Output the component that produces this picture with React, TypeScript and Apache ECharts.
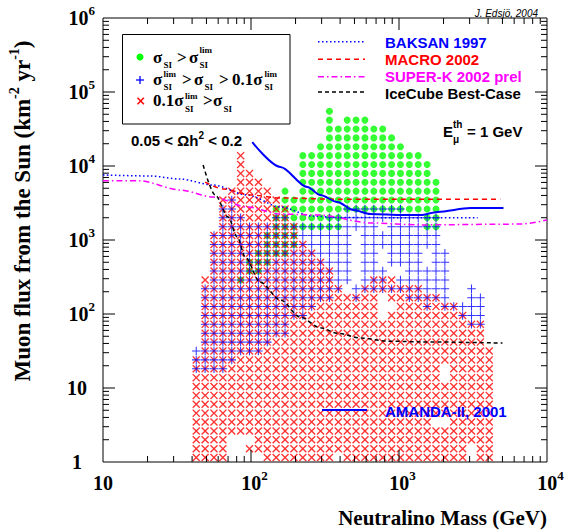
import React, { useEffect, useRef } from "react";
import * as echarts from "echarts";

// ---- scanned model grid: column masses (GeV) and row fluxes (km^-2 yr^-1) ----
const MASS_COLS = [42.66, 48.98, 56.23, 64.57, 74.13, 85.11, 97.72, 112.2, 128.8, 147.9, 169.8, 195.0, 223.9, 257.0, 295.1, 338.8, 389.0, 446.7, 512.9, 588.8, 676.1, 776.2, 891.3, 1023, 1175, 1349, 1549, 1778, 2042, 2344, 2692, 3090, 3548, 4074];
const FLUX_ROWS = [1.148, 1.514, 1.995, 2.63, 3.467, 4.571, 6.026, 7.943, 10.47, 13.8, 18.2, 23.99, 31.62, 41.69, 54.95, 72.44, 95.5, 125.9, 166.0, 218.8, 288.4, 380.2, 501.2, 660.7, 871.0, 1148, 1514, 1995, 2630, 3467, 4571, 6026, 7943, 10470, 13800, 18200, 23990, 31620, 41690, 54950];

// red x  (0.1 sigma_lim > sigma): highest row index per column, plus empty cells [col,row]
const RED_TOP = [11, 20, 25, 29, 30, 34, 32, 31, 30, 29, 28, 26, 24, 23, 22, 21, 19, 18, 18, 19, 20, 20, 20, 19, 19, 19, 18, 18, 17, 17, 16, 15, 15, 12];
const RED_HOLES = [[4, 0], [5, 0], [6, 0], [7, 0], [4, 1], [5, 1], [4, 2], [5, 2], [6, 2], [16, 0], [21, 16], [21, 17], [22, 17], [21, 18], [28, 9], [28, 10], [27, 4], [28, 4], [31, 0], [31, 1]];

// green dots (sigma > sigma_lim): row range per column (-1 = none)
const GREEN_LO = [-1, -1, -1, -1, -1, 20, 21, 21, 22, 23, 23, 24, 26, 26, 26, 26, 26, 28, 28, 28, 28, 28, 28, 28, 28, 28, 26, 26, -1, -1, -1, -1, -1, -1];
const GREEN_HI = [-1, -1, -1, -1, -1, 20, 22, 23, 25, 28, 30, 29, 34, 34, 35, 39, 37, 38, 38, 38, 37, 37, 36, 35, 34, 34, 33, 31, -1, -1, -1, -1, -1, -1];

// blue + (sigma_lim > sigma > 0.1 sigma_lim): [row, firstCol, lastCol]
const BLUE_SEGS = [
  [10, 0, 3], [11, 0, 4], [12, 0, 7], [13, 1, 8], [14, 1, 10], [15, 1, 10], [15, 31, 32],
  [16, 1, 12], [16, 30, 32], [17, 1, 13], [17, 26, 26], [17, 28, 32],
  [18, 1, 15], [18, 18, 18], [18, 24, 28], [18, 31, 32],
  [19, 1, 16], [19, 18, 28], [19, 31, 31],
  [20, 2, 17], [20, 19, 21], [20, 23, 28],
  [21, 2, 17], [21, 19, 21], [21, 24, 28],
  [22, 2, 17], [22, 19, 20], [22, 22, 25], [22, 27, 28],
  [23, 2, 17], [23, 19, 20], [23, 22, 25], [23, 27, 28],
  [24, 2, 17], [24, 19, 27], [25, 2, 17], [25, 19, 27],
  [26, 3, 20], [26, 22, 27], [27, 3, 5], [27, 9, 10], [27, 15, 27],
  [28, 3, 4], [28, 17, 23], [29, 4, 4],
];

// ---- limit curves ----
const BAKSAN_MASS = [10, 20.8, 33.2, 55.5, 94.2, 158, 263, 400, 1000, 3400];
const BAKSAN_FLUX = [7560, 7330, 6660, 5530, 4060, 2790, 2100, 2020, 2000, 2000];
const MACRO_MASS = [49, 64.7, 99, 158, 383, 4850];
const MACRO_FLUX = [6060, 4900, 4060, 3700, 3560, 3560];
const SUPERK_MASS = [10, 17.8, 33.2, 55.5, 94.2, 158, 294, 640, 1400, 6600, 10000];
const SUPERK_FLUX = [6300, 6300, 4740, 3800, 2790, 2240, 2170, 1700, 1600, 1640, 1860];
const ICECUBE_MASS = [47.5, 57.3, 70.1, 80.7, 91.4, 115, 158, 215, 294, 383, 548, 832, 1400, 5000];
const ICECUBE_FLUX = [10300, 4050, 2040, 1100, 590, 270, 155, 91, 65, 55, 47.5, 43, 42, 40.5];
const AMANDA_MASS = [102, 158, 240, 294, 383, 491, 640, 1070, 1400, 1820, 3040, 5080];
const AMANDA_FLUX = [21000, 9700, 5200, 4060, 3260, 2540, 2240, 2170, 2170, 2390, 2700, 2700];

// ---- axes ----
const X_DECADES = [10, 100, 1000, 10000];
const Y_DECADES = [1, 10, 100, 1000, 10000, 100000, 1000000];
const MINOR_STEPS = [2, 3, 4, 5, 6, 7, 8, 9];

const SERIF = "'Liberation Serif', 'Times New Roman', serif";
const SANS = "'Liberation Sans', Arial, Helvetica, sans-serif";

const X_PATH = "path://M0,1.2L1.2,0L5,3.8L8.8,0L10,1.2L6.2,5L10,8.8L8.8,10L5,6.2L1.2,10L0,8.8L3.8,5Z";
const PLUS_PATH = "path://M4.4,0L5.6,0L5.6,4.4L10,4.4L10,5.6L5.6,5.6L5.6,10L4.4,10L4.4,5.6L0,5.6L0,4.4L4.4,4.4Z";

function zip(a: number[], b: number[]) {
  return a.map((v, i) => [v, b[i]]);
}

function txt(x: number, y: number, text: string, size: number, o: any = {}) {
  const weight = o.bold === false ? "" : "bold ";
  const ital = o.italic ? "italic " : "";
  return {
    type: "text",
    x,
    y,
    silent: true,
    z: 100,
    style: {
      text,
      fill: o.fill || "#000",
      font: `${ital}${weight}${size}px ${o.family || SERIF}`,
      align: o.align || "left",
      verticalAlign: o.va || "middle",
    },
  };
}

function line(x1: number, y1: number, x2: number, y2: number, stroke: string, lw: number, dash?: number[]) {
  return {
    type: "line",
    silent: true,
    z: 100,
    shape: { x1, y1, x2, y2 },
    style: { stroke, lineWidth: lw, lineDash: dash || null },
  };
}

function buildOption() {
  const holes = new Set(RED_HOLES.map(([c, r]) => c + "," + r));
  const redPts: number[][] = [];
  const greenPts: number[][] = [];
  const bluePts: number[][] = [];
  MASS_COLS.forEach((m, c) => {
    for (let r = 0; r <= RED_TOP[c]; r++) {
      if (!holes.has(c + "," + r)) redPts.push([m, FLUX_ROWS[r]]);
    }
    if (GREEN_LO[c] >= 0) {
      for (let r = GREEN_LO[c]; r <= GREEN_HI[c]; r++) greenPts.push([m, FLUX_ROWS[r]]);
    }
  });
  BLUE_SEGS.forEach(([r, c0, c1]) => {
    for (let c = c0; c <= c1; c++) bluePts.push([MASS_COLS[c], FLUX_ROWS[r]]);
  });

  const tickData: number[][] = [];
  X_DECADES.slice(0, -1).forEach((d) => MINOR_STEPS.forEach((k) => tickData.push([d * k, 1, 0])));
  X_DECADES.slice(1, -1).forEach((d) => tickData.push([d, 1, 1]));
  Y_DECADES.slice(0, -1).forEach((d) => MINOR_STEPS.forEach((k) => tickData.push([10, d * k, 2])));
  Y_DECADES.slice(1, -1).forEach((d) => tickData.push([10, d, 3]));

  const labelRich = {
    b: { fontFamily: SERIF, fontWeight: "bold", fontSize: 20, color: "#000", lineHeight: 20 },
    b0: { fontFamily: SERIF, fontWeight: "bold", fontSize: 20, color: "#000", lineHeight: 20, padding: [4.5, 0, 4.5, 0] },
    s: { fontFamily: SERIF, fontWeight: "bold", fontSize: 13, color: "#000", lineHeight: 13, padding: [0, 0, 16, 0] },
    pad: { fontSize: 13, width: 7, color: "transparent" },
    y1: { fontFamily: SERIF, fontWeight: "bold", fontSize: 20, color: "#000", lineHeight: 20, padding: [0, 13, 0, 0] },
    y10: { fontFamily: SERIF, fontWeight: "bold", fontSize: 20, color: "#000", lineHeight: 20, padding: [0, 8, 0, 0] },
  };

  const lineSeries = (name: string, m: number[], f: number[], color: string, width: number, type: any) => ({
    name,
    type: "line",
    data: zip(m, f),
    showSymbol: false,
    symbol: "none",
    smooth: 0.3,
    smoothMonotone: "x",
    silent: true,
    z: 5,
    lineStyle: { color, width, type },
  });

  const graphic: any[] = [
    // legend box 1
    {
      type: "rect",
      silent: true,
      z: 99,
      shape: { x: 122.5, y: 34.5, width: 167.5, height: 89.5 },
      style: { fill: "#fff", stroke: "#000", lineWidth: 1 },
    },
    { type: "circle", silent: true, z: 100, shape: { cx: 140, cy: 57, r: 3.5 }, style: { fill: "#00ff00" } },
    line(136, 80, 144, 80, "#0000ff", 1.3),
    line(140, 76, 140, 84, "#0000ff", 1.3),
    line(137.5, 97.8, 143.9, 104.2, "#ff0000", 1.5),
    line(137.5, 104.2, 143.9, 97.8, "#ff0000", 1.5),
    // row 1: sigma_SI > sigma_SI^lim
    txt(153, 57, "σ", 17),
    txt(163.5, 64.5, "SI", 9),
    txt(177, 57, ">", 17),
    txt(189, 57, "σ", 17),
    txt(199.5, 50, "lim", 9),
    txt(199.5, 64.5, "SI", 9),
    // row 2
    txt(153, 79, "σ", 17),
    txt(163.5, 73.5, "lim", 9),
    txt(163.5, 86.5, "SI", 9),
    txt(182, 79, ">", 17),
    txt(194, 79, "σ", 17),
    txt(204.5, 86.5, "SI", 9),
    txt(219, 79, ">", 17),
    txt(232, 79, "0.1σ", 17),
    txt(264.5, 73.5, "lim", 9),
    txt(264.5, 86.5, "SI", 9),
    // row 3
    txt(153, 100.5, "0.1σ", 17),
    txt(185, 95.5, "lim", 9),
    txt(185, 108.5, "SI", 9),
    txt(203, 100.5, ">", 17),
    txt(213, 100.5, "σ", 17),
    txt(223.5, 108.5, "SI", 9),

    // legend 2 (experiments)
    line(318, 41.7, 365, 41.7, "#0000ff", 1.5, [1.5, 2.5]),
    line(318, 59.3, 365, 59.3, "#ff0000", 1.5, [5, 4]),
    line(318, 76.7, 365, 76.7, "#ff00ff", 1.5, [6, 3, 1.5, 3]),
    line(318, 92, 365, 92, "#000000", 1.5, [4, 3]),
    txt(385, 42, "BAKSAN 1997", 15, { family: SANS, fill: "#0000ff" }),
    txt(385, 59.3, "MACRO 2002", 15, { family: SANS, fill: "#ff0000" }),
    txt(385, 76.3, "SUPER-K 2002 prel", 15, { family: SANS, fill: "#ff00ff" }),
    txt(385, 93, "IceCube Best-Case", 15, { family: SANS }),

    // E_mu^th = 1 GeV
    txt(443, 131, "E", 15, { family: SANS }),
    txt(453, 124, "th", 10, { family: SANS }),
    txt(453, 139, "μ", 10, { family: SANS }),
    txt(467, 131, "= 1 GeV", 15, { family: SANS }),

    // relic density
    {
      type: "text",
      x: 131,
      y: 140,
      silent: true,
      z: 100,
      style: {
        text: "{a|0.05 < Ωh}{s|2}{a| < 0.2}",
        align: "left",
        verticalAlign: "middle",
        rich: {
          a: { fontFamily: SANS, fontWeight: "bold", fontSize: 15, fill: "#000", lineHeight: 15 },
          s: { fontFamily: SANS, fontWeight: "bold", fontSize: 10, fill: "#000", lineHeight: 10, padding: [0, 0, 10, 0] },
        },
      },
    },

    // AMANDA legend
    line(322, 410, 367, 410, "#0000ff", 2),
    txt(385, 411, "AMANDA-II, 2001", 15, { family: SANS, fill: "#0000ff" }),

    // author
    txt(538, 13, "J. Edsjö, 2004", 10, { family: SANS, italic: true, bold: false, align: "right" }),

    // axis titles
    txt(547, 518, "Neutralino Mass (GeV)", 21, { align: "right" }),
    {
      type: "text",
      x: 22,
      y: 211,
      rotation: Math.PI / 2,
      silent: true,
      z: 100,
      style: {
        text: "{a|Muon flux from the Sun (km}{s|-2}{a| yr}{s|-1}{a|)}",
        align: "center",
        verticalAlign: "middle",
        rich: {
          a: { fontFamily: SERIF, fontWeight: "bold", fontSize: 23, fill: "#000", lineHeight: 23 },
          s: { fontFamily: SERIF, fontWeight: "bold", fontSize: 14, fill: "#000", lineHeight: 14, padding: [0, 0, 16, 0] },
        },
      },
    },
  ];

  return {
    animation: false,
    backgroundColor: "#ffffff",
    grid: {
      left: 103,
      top: 18,
      right: 26,
      bottom: 69,
      show: true,
      borderColor: "#000",
      borderWidth: 1,
      backgroundColor: "transparent",
      containLabel: false,
    },
    xAxis: {
      type: "log",
      logBase: 10,
      min: 10,
      max: 10000,
      splitNumber: 3,
      axisLine: { show: false },
      axisTick: { show: false },
      splitLine: { show: false },
      axisLabel: {
        margin: 11,
        rich: labelRich,
        formatter: (v: number) => {
          const e = Math.round(Math.log10(v));
          if (e === 1) return "{b0|10}";
          return "{pad| }{b|10}{s|" + e + "}";
        },
      },
    },
    yAxis: {
      type: "log",
      logBase: 10,
      min: 1,
      max: 1000000,
      splitNumber: 6,
      axisLine: { show: false },
      axisTick: { show: false },
      splitLine: { show: false },
      axisLabel: {
        margin: 8,
        align: "right",
        rich: labelRich,
        formatter: (v: number) => {
          const e = Math.round(Math.log10(v));
          if (e === 0) return "{y1|1}";
          if (e === 1) return "{y10|10}";
          return "{b|10}{s|" + e + "}";
        },
      },
    },
    series: [
      {
        name: "green",
        type: "scatter",
        data: greenPts,
        symbol: "circle",
        symbolSize: 7,
        itemStyle: { color: "#00ff00" },
        silent: true,
        progressive: 0,
        z: 2,
      },
      {
        name: "red",
        type: "scatter",
        data: redPts,
        symbol: X_PATH,
        symbolSize: 8,
        itemStyle: { color: "#ff0000" },
        silent: true,
        progressive: 0,
        z: 3,
      },
      {
        name: "blue",
        type: "scatter",
        data: bluePts,
        symbol: PLUS_PATH,
        symbolSize: 8.5,
        itemStyle: { color: "#0000ff" },
        silent: true,
        progressive: 0,
        z: 4,
      },
      lineSeries("BAKSAN 1997", BAKSAN_MASS, BAKSAN_FLUX, "#0000ff", 1.5, [1.5, 2.5]),
      lineSeries("MACRO 2002", MACRO_MASS, MACRO_FLUX, "#ff0000", 1.5, [5, 4]),
      lineSeries("SUPER-K 2002 prel", SUPERK_MASS, SUPERK_FLUX, "#ff00ff", 1.5, [6, 3, 1.5, 3]),
      lineSeries("IceCube Best-Case", ICECUBE_MASS, ICECUBE_FLUX, "#000000", 1.5, [4, 3]),
      lineSeries("AMANDA-II, 2001", AMANDA_MASS, AMANDA_FLUX, "#0000ff", 2, "solid"),
      {
        name: "ticks",
        type: "custom",
        data: tickData,
        silent: true,
        clip: false,
        z: 10,
        renderItem: (params: any, api: any) => {
          const v0 = api.value(0);
          const v1 = api.value(1);
          const kind = api.value(2);
          const st = { stroke: "#000", lineWidth: 1 };
          if (kind < 2) {
            const len = kind === 1 ? 12 : 6;
            const b = api.coord([v0, 1]);
            const t = api.coord([v0, 1000000]);
            return {
              type: "group",
              children: [
                { type: "line", shape: { x1: b[0], y1: b[1], x2: b[0], y2: b[1] - len }, style: st },
                { type: "line", shape: { x1: t[0], y1: t[1], x2: t[0], y2: t[1] + len }, style: st },
              ],
            };
          }
          const len = kind === 3 ? 12 : 6;
          const l = api.coord([10, v1]);
          const r = api.coord([10000, v1]);
          return {
            type: "group",
            children: [
              { type: "line", shape: { x1: l[0], y1: l[1], x2: l[0] + len, y2: l[1] }, style: st },
              { type: "line", shape: { x1: r[0], y1: r[1], x2: r[0] - len, y2: r[1] }, style: st },
            ],
          };
        },
      },
    ],
    graphic,
  };
}

export default function App() {
  const ref = useRef<HTMLDivElement>(null);
  useEffect(() => {
    if (!ref.current) return;
    const chart = echarts.init(ref.current, undefined, { renderer: "svg", width: 573, height: 531 });
    chart.setOption(buildOption() as any);
    return () => {
      chart.dispose();
    };
  }, []);
  return (
    <div
      ref={ref}
      style={{ position: "absolute", left: 0, top: 0, width: 573, height: 531, background: "#fff" }}
    />
  );
}
